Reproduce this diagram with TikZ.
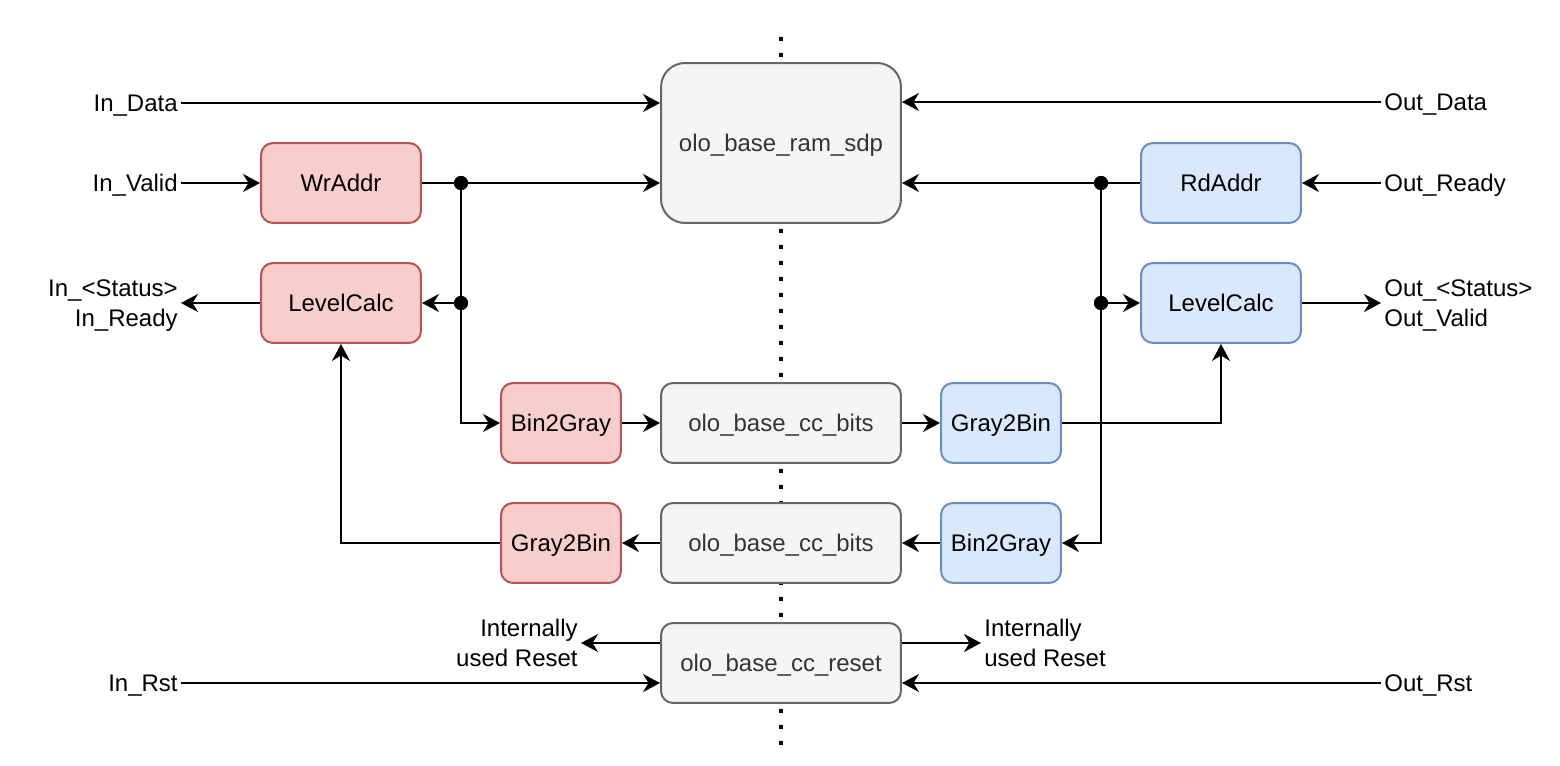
\documentclass[tikz,border=0pt]{standalone}
\usepackage{fontspec}
\setmainfont{Liberation Sans}
\usetikzlibrary{arrows.meta,positioning}
\definecolor{wrfill}{HTML}{F8CECC}
\definecolor{wrline}{HTML}{B85450}
\definecolor{rdfill}{HTML}{DAE8FC}
\definecolor{rdline}{HTML}{6C8EBF}
\definecolor{ccfill}{HTML}{F5F5F5}
\definecolor{ccline}{HTML}{666666}
\definecolor{cctext}{HTML}{333333}
\newcommand{\lnstrut}{\rule[-0.102cm]{0pt}{0.536cm}}
\begin{document}
\begin{tikzpicture}[x=0.02cm,y=-0.02cm,
    font=\fontsize{13.66pt}{17.07pt}\selectfont,
    blk/.style={draw,line width=0.04cm,rounded corners=0.24cm,inner sep=0pt,
      minimum width=3.2cm,minimum height=1.6cm,text height=0.434cm,text depth=0.102cm},
    wrblk/.style={blk,fill=wrfill,draw=wrline},
    rdblk/.style={blk,fill=rdfill,draw=rdline},
    ccblk/.style={blk,fill=ccfill,draw=ccline,text=cctext,minimum width=4.8cm},
    ramblk/.style={ccblk,rounded corners=0.48cm,minimum height=3.2cm},
    lbl/.style={inner xsep=0.06cm,inner ysep=0pt,text height=0.434cm,text depth=0.102cm},
    lbltwo/.style={inner xsep=0.06cm,inner ysep=0pt},
    sig/.style={line width=0.04cm,-{Stealth[length=0.34cm,width=0.36cm,inset=0.11cm]}},
    junc/.style={circle,fill,inner sep=0pt,minimum size=0.28cm},
    dotline/.style={line width=0.08cm,dash pattern=on 0.08cm off 0.24cm}]
    \useasboundingbox (0,0) rectangle (1560,766);
    %% clock domain border
    \draw[dotline] (781,37) -- (781,745);
    %% shared blocks
    \node[ramblk] (ram) at (781,143) {olo\_base\_ram\_sdp};
    \node[ccblk] (ccwr) at (781,423) {olo\_base\_cc\_bits};
    \node[ccblk] (ccrd) at (781,543) {olo\_base\_cc\_bits};
    \node[ccblk] (ccrst) at (781,663) {olo\_base\_cc\_reset};
    %% write side
    \node[wrblk] (wraddr) at (341,183) {WrAddr};
    \node[wrblk] (wrlvl) at (341,303) {LevelCalc};
    \node[wrblk,minimum width=2.4cm] (wrb2g) at (561,423) {Bin2Gray};
    \node[wrblk,minimum width=2.4cm] (wrg2b) at (561,543) {Gray2Bin};
    %% read side
    \node[rdblk] (rdaddr) at (1221,183) {RdAddr};
    \node[rdblk] (rdlvl) at (1221,303) {LevelCalc};
    \node[rdblk,minimum width=2.4cm] (rdg2b) at (1001,423) {Gray2Bin};
    \node[rdblk,minimum width=2.4cm] (rdb2g) at (1001,543) {Bin2Gray};
    %% ports
    \node[lbl,anchor=east] (indata) at (181,103) {In\_Data};
    \node[lbl,anchor=east] (invalid) at (181,183) {In\_Valid};
    \node[lbltwo,anchor=east,align=right] (instat) at (181,303) {\lnstrut In\_<Status>\\\lnstrut In\_Ready};
    \node[lbl,anchor=east] (inrst) at (181,683) {In\_Rst};
    \node[lbl,anchor=west] (outdata) at (1381,102) {Out\_Data};
    \node[lbl,anchor=west] (outready) at (1381,183) {Out\_Ready};
    \node[lbltwo,anchor=west,align=left] (outstat) at (1381,303) {\lnstrut Out\_<Status>\\\lnstrut Out\_Valid};
    \node[lbl,anchor=west] (outrst) at (1381,683) {Out\_Rst};
    \node[lbltwo,anchor=east,align=right] (rstwr) at (581,643) {\lnstrut Internally\\\lnstrut used Reset};
    \node[lbltwo,anchor=west,align=left] (rstrd) at (981,643) {\lnstrut Internally\\\lnstrut used Reset};
    %% junctions
    \node[junc] (wrj1) at (461,183) {};
    \node[junc] (wrj2) at (461,303) {};
    \node[junc] (rdj1) at (1101,183) {};
    \node[junc] (rdj2) at (1101,303) {};
    %% write side signals
    \draw[sig] (indata.east) -- (ram.west |- indata.east);
    \draw[sig] (invalid.east) -- (wraddr.west);
    \draw[sig] (wraddr.east) -- (ram.west |- wraddr.east);
    \draw[sig] (wrj1.center) |- (wrb2g.west);
    \draw[sig] (wrj2.center) -- (wrlvl.east);
    \draw[sig] (wrlvl.west) -- (instat.east);
    \draw[sig] (wrb2g) -- (ccwr);
    \draw[sig] (ccwr) -- (rdg2b);
    \draw[sig] (rdg2b.east) -| (rdlvl.south);
    %% read side signals
    \draw[sig] (outdata.west) -- (ram.east |- outdata.west);
    \draw[sig] (outready.west) -- (rdaddr.east);
    \draw[sig] (rdaddr.west) -- (ram.east |- rdaddr.west);
    \draw[sig] (rdj1.center) |- (rdb2g.east);
    \draw[sig] (rdj2.center) -- (rdlvl.west);
    \draw[sig] (rdlvl.east) -- (outstat.west);
    \draw[sig] (rdb2g) -- (ccrd);
    \draw[sig] (ccrd) -- (wrg2b);
    \draw[sig] (wrg2b.west) -| (wrlvl.south);
    %% reset
    \draw[sig] (inrst.east) -- (ccrst.west |- inrst.east);
    \draw[sig] (outrst.west) -- (ccrst.east |- outrst.west);
    \draw[sig] (ccrst.west |- rstwr.east) -- (rstwr.east);
    \draw[sig] (ccrst.east |- rstrd.west) -- (rstrd.west);
    %% redraw dots on top
    \foreach \j in {wrj1,wrj2,rdj1,rdj2} \fill (\j) circle (0.14cm);
\end{tikzpicture}
\end{document}
